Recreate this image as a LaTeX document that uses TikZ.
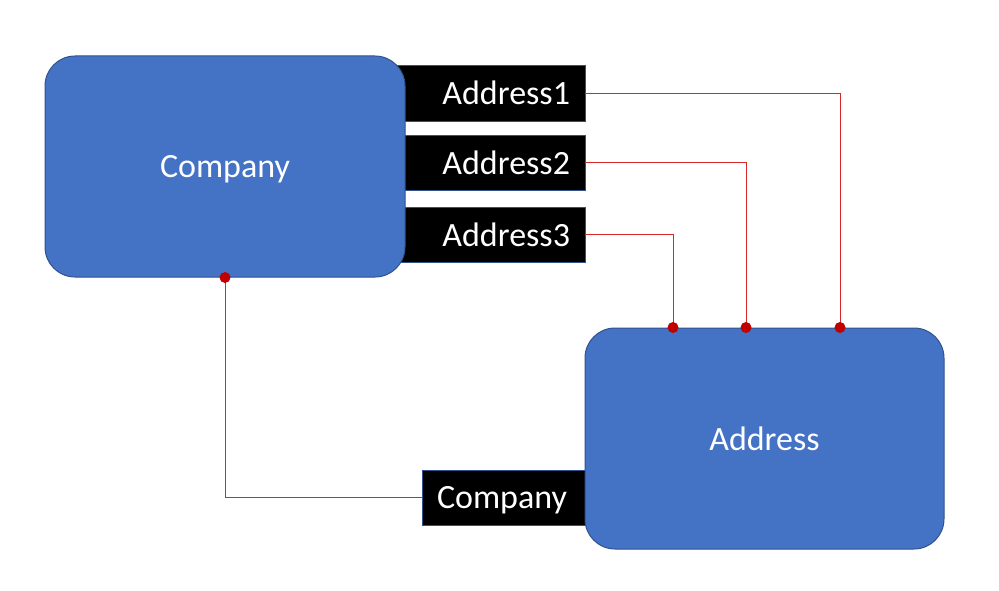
\documentclass[tikz,border=0pt]{standalone}
\usepackage{fontspec}
\setmainfont{Carlito}
\begin{document}
\begin{tikzpicture}[x=1pt,y=-1pt,
  entity/.style={draw=blueborder, line width=1pt, fill=bluefill, rounded corners=30pt, text=white, text depth=0pt, font=\fontsize{34}{40}\selectfont},
  field/.style={draw=blueborder, line width=0.8pt, fill=black, text=white, font=\fontsize{34}{40}\selectfont, inner sep=0pt},
  link/.style={draw=linkred, line width=0.7pt},
  dotmark/.style={circle, fill=dotred, inner sep=0pt, minimum size=11pt}
]
\definecolor{bluefill}{HTML}{4472C4}
\definecolor{blueborder}{HTML}{2F528F}
\definecolor{linkred}{HTML}{D62828}
\definecolor{dotred}{HTML}{C00000}
\useasboundingbox (0,0) rectangle (999,591);
% field boxes (behind entities)
\node[field, minimum width=190pt, minimum height=56pt, text width=160pt, align=right, inner xsep=15pt] (a1) at (490,93) {Address1};
\node[field, minimum width=190pt, minimum height=55pt, text width=160pt, align=right, inner xsep=15pt] (a2) at (490,162.5) {Address2};
\node[field, minimum width=190pt, minimum height=55pt, text width=160pt, align=right, inner xsep=15pt] (a3) at (490,234.5) {Address3};
\node[field, minimum width=170pt, minimum height=55pt, text width=140pt, align=left, inner xsep=15pt, text depth=0pt] (cl) at (507,497.5) {Company};
% entities
\node[entity, minimum width=360pt, minimum height=221pt] (comp) at (225,166.5) {Company};
\node[entity, minimum width=359pt, minimum height=221pt] (addr) at (764.5,438.5) {Address};
% connector end points
\coordinate (e1) at ([xshift=75.5pt]addr.north);
\coordinate (e2) at ([xshift=-18.5pt]addr.north);
\coordinate (e3) at ([xshift=-91.5pt]addr.north);
% links
\draw[link] (a1.east) -| (e1);
\draw[link] (a2.east) -| (e2);
\draw[link] (a3.east) -| (e3);
\draw[link] (comp.south) |- (cl.west);
% dots
\node[dotmark] (d1) at (e1) {};
\node[dotmark] (d2) at (e2) {};
\node[dotmark] (d3) at (e3) {};
\node[dotmark] (d0) at (comp.south) {};
\end{tikzpicture}
\end{document}
